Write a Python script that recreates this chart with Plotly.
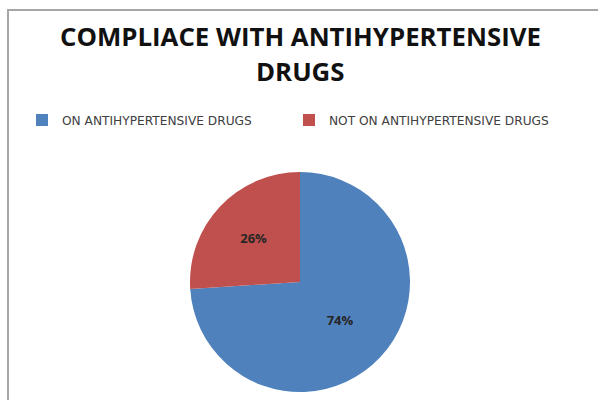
import plotly.graph_objects as go

labels = ["ON ANTIHYPERTENSIVE DRUGS", "NOT ON ANTIHYPERTENSIVE DRUGS"]
values = [74, 26]
colors = ["#4F81BD", "#C0504D"]
title_lines = ["COMPLIACE WITH ANTIHYPERTENSIVE", "DRUGS"]

W, H = 598, 400

fig = go.Figure()
fig.add_trace(go.Pie(
    labels=labels,
    values=values,
    marker=dict(colors=colors, line=dict(width=0)),
    sort=False,
    direction="clockwise",
    rotation=0,
    textinfo="percent",
    textposition="inside",
    insidetextorientation="horizontal",
    textfont=dict(family="Open Sans", size=13, color="#262626", weight="bold"),
    domain=dict(x=[190 / W, 410 / W], y=[(H - 392) / H, (H - 172) / H]),
    hoverinfo="label+percent",
))

title_y = [36, 71]
annotations = [
    dict(text=t, xref="paper", yref="paper", x=300 / W, y=1 - yy / H,
         xanchor="center", yanchor="middle", showarrow=False,
         font=dict(family="Open Sans", size=25.8, color="#111111", weight="bold"))
    for t, yy in zip(title_lines, title_y)
]

fig.update_layout(
    width=W, height=H,
    margin=dict(l=0, r=0, t=0, b=0),
    paper_bgcolor="white",
    plot_bgcolor="white",
    annotations=annotations,
    showlegend=True,
    legend=dict(
        orientation="h",
        x=22 / W, xanchor="left",
        y=1 - 120 / H, yanchor="middle",
        font=dict(family="DejaVu Sans", size=12.2, color="#404040"),
        entrywidth=222, entrywidthmode="pixels",
        itemclick=False,
        bgcolor="rgba(0,0,0,0)",
    ),
    shapes=[dict(
        type="rect", xref="paper", yref="paper",
        x0=8 / W, x1=1.05, y0=-0.05, y1=1 - 10 / H,
        line=dict(color="#A6A6A6", width=2),
        fillcolor="rgba(0,0,0,0)",
        layer="below",
    )],
)

fig.write_html("out.html")
